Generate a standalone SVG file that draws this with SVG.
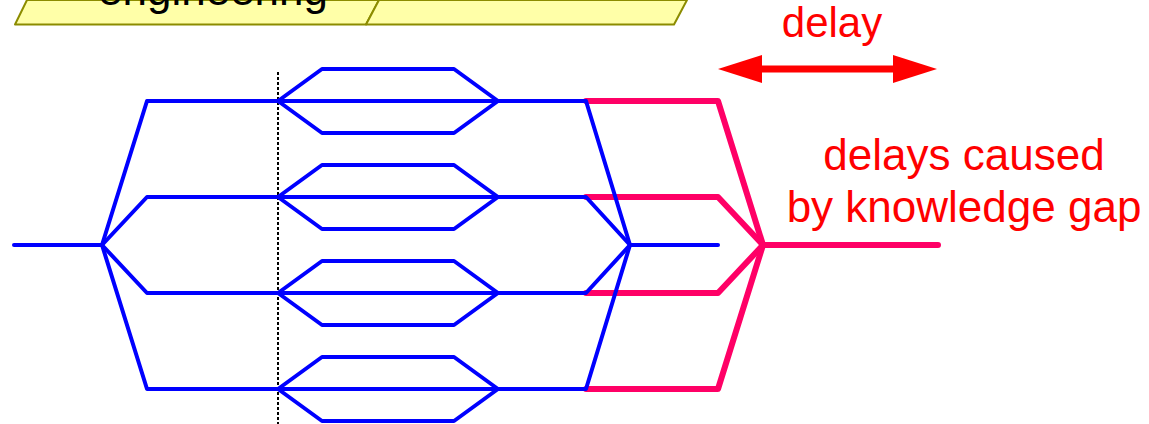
<svg xmlns="http://www.w3.org/2000/svg" width="1149" height="424" viewBox="0 0 1149 424">
<style>
.band{fill:#FFFFA8;stroke:#8C8C00;stroke-width:2;stroke-linejoin:round}
.t{font-family:"Liberation Sans",Arial,sans-serif;font-size:44px;text-anchor:middle}
.blue{fill:none;stroke:#0000FF;stroke-width:4;stroke-linejoin:round;stroke-linecap:round}
.pink{fill:none;stroke:#FF0066;stroke-width:6;stroke-linejoin:round;stroke-linecap:round}
.red{fill:#FF0000}
</style>
<defs>
<g id="sub">
<polyline class="blue" points="278,0 322,-32 454,-32 498,0"/>
<polyline class="blue" points="278,0 322,32 454,32 498,0"/>
</g>
</defs>
<g id="banner">
<polygon class="band" points="15,24.5 27,0 379,0 366,24.5"/>
<polygon class="band" points="366,24.5 379,0 687,0 674,24.5"/>
<text class="t" x="213" y="4.5" fill="#000000">engineering</text>
</g>
<g id="delay">
<line x1="750" y1="69" x2="905" y2="69" stroke="#FF0000" stroke-width="7"/>
<polygon class="red" points="718,69 762,55 762,83"/>
<polygon class="red" points="937,69 893,55 893,83"/>
<text class="t" x="832" y="37" fill="#FF0000" style="font-size:42px">delay</text>
</g>
<g id="label">
<text class="t" x="964" y="170" fill="#FF0000">delays caused</text>
<text class="t" x="964" y="222" fill="#FF0000">by knowledge gap</text>
</g>
<g id="connectors">
<g id="pink-paths">
<polyline class="pink" points="586,101 718,101 763,245"/>
<polyline class="pink" points="586,197 718,197 763,245"/>
<polyline class="pink" points="586,293 718,293 763,245"/>
<polyline class="pink" points="586,389 718,389 763,245"/>
<line class="pink" x1="763" y1="245" x2="938" y2="245"/>
</g>
<line x1="278" y1="72" x2="278" y2="424" stroke="#000000" stroke-width="2" stroke-dasharray="3,2"/>
<g id="blue-paths">
<line class="blue" x1="14" y1="245" x2="102" y2="245"/>
<polyline class="blue" points="102,245 147,101 586,101 630,245"/>
<polyline class="blue" points="102,245 147,197 586,197 630,245"/>
<polyline class="blue" points="102,245 147,293 586,293 630,245"/>
<polyline class="blue" points="102,245 147,389 586,389 630,245"/>
<line class="blue" x1="630" y1="245" x2="718" y2="245"/>
<use href="#sub" y="101"/>
<use href="#sub" y="197"/>
<use href="#sub" y="293"/>
<use href="#sub" y="389"/>
</g>
</g>
</svg>
